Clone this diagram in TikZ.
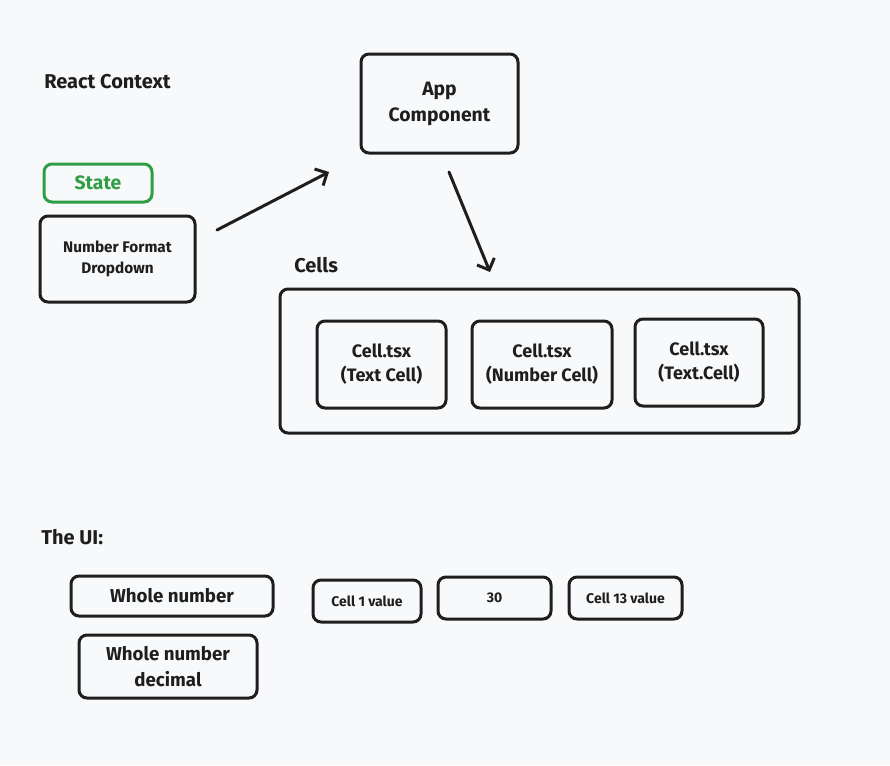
\documentclass[tikz,border=0pt]{standalone}
\usepackage{fontspec}
\setmainfont{Fira Sans}
\usetikzlibrary{arrows.meta}
\definecolor{bgc}{HTML}{F8F9FA}
\definecolor{inkc}{HTML}{1E1E1E}
\definecolor{greenc}{HTML}{2F9E44}
\tikzset{
  boxs/.style={draw=inkc, line width=2.25pt, rounded corners=6pt, align=center, inner sep=0pt, text=inkc},
  lbl/.style={anchor=west, inner sep=0pt, text=inkc, font=\fontsize{15}{17}\selectfont\bfseries},
  conn/.style={draw=inkc, line width=2.25pt, line cap=round, -{Straight Barb[length=7pt,width=14pt,line width=2.25pt]}},
}
\begin{document}
\begin{tikzpicture}[x=0.75pt,y=-0.75pt]
\fill[bgc] (0,0) rectangle (890,765);
\useasboundingbox (0,0) rectangle (890,765);

\node[lbl] (rc) at (44,82) {React Context};
\node[lbl] (cl) at (294,265) {Cells};
\node[lbl] (ui) at (41,537) {The UI:};

\node[boxs, draw=greenc, text=greenc, minimum width=81pt, minimum height=28.5pt, font=\fontsize{14.5}{16}\selectfont\bfseries] (st) at (98,183) {State};
\node[boxs, minimum width=116.25pt, minimum height=64.5pt, font=\fontsize{11.5}{16}\selectfont\bfseries] (nfd) at (117.5,259) {Number Format\\Dropdown};
\node[boxs, minimum width=117.75pt, minimum height=74.25pt, font=\fontsize{14.5}{19.5}\selectfont\bfseries] (app) at (439.5,103.5) {App\\Component};

\node[boxs, minimum width=389.25pt, minimum height=108pt] (cells) at (539.5,361) {};
\node[boxs, minimum width=96.75pt, minimum height=65.25pt, font=\fontsize{13.5}{18}\selectfont\bfseries] (c1) at (381.5,364.5) {Cell.tsx\\(Text Cell)};
\node[boxs, minimum width=105pt, minimum height=65.25pt, font=\fontsize{13.5}{18}\selectfont\bfseries] (c2) at (542,364.5) {Cell.tsx\\(Number Cell)};
\node[boxs, minimum width=96pt, minimum height=65.25pt, font=\fontsize{13.5}{18}\selectfont\bfseries] (c3) at (699,362.5) {Cell.tsx\\(Text.Cell)};

\node[boxs, minimum width=151.5pt, minimum height=30pt, font=\fontsize{14}{17}\selectfont\bfseries] (wn) at (172,596) {Whole number};
\node[boxs, minimum width=133.5pt, minimum height=47.25pt, font=\fontsize{14}{19}\selectfont\bfseries] (wnd) at (168,666.5) {Whole number\\decimal};
\node[boxs, minimum width=81pt, minimum height=31.5pt, font=\fontsize{10.5}{13}\selectfont\bfseries] (v1) at (367,601) {Cell 1 value};
\node[boxs, minimum width=84.75pt, minimum height=31.5pt, font=\fontsize{10.5}{13}\selectfont\bfseries] (v2) at (494.5,598) {30};
\node[boxs, minimum width=84.75pt, minimum height=31.5pt, font=\fontsize{10.5}{13}\selectfont\bfseries] (v3) at (625.5,598) {Cell 13 value};

\coordinate (a1s) at (217,230);
\coordinate (a1e) at (329,172);
\coordinate (a2s) at (449,172);
\coordinate (a2e) at (490,272);
\draw[conn] (a1s) -- (a1e);
\draw[conn] (a2s) -- (a2e);
\end{tikzpicture}
\end{document}
